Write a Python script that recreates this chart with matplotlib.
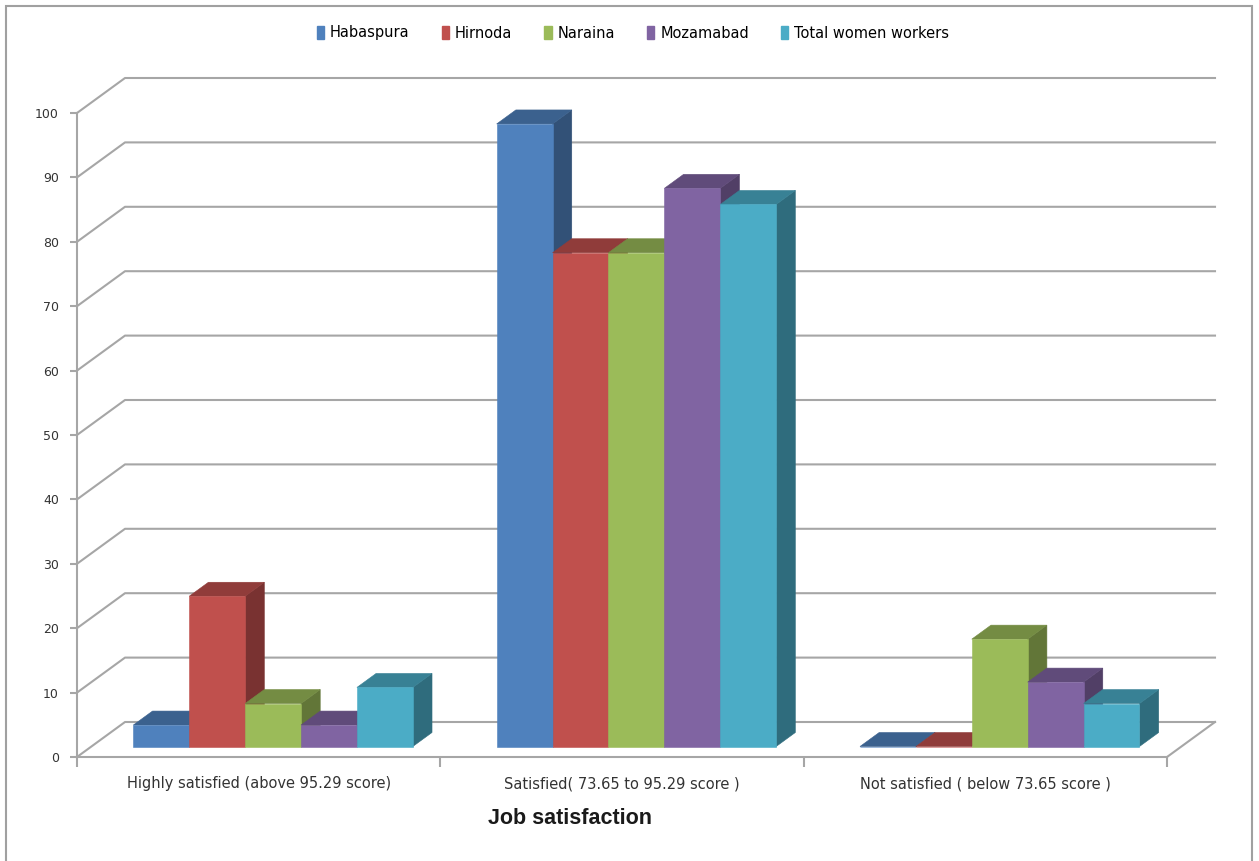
import numpy as np
import matplotlib.pyplot as plt
from matplotlib.patches import Patch, Rectangle, Polygon
from matplotlib.colors import to_rgb

# survey shares (%) per satisfaction level, 30 workers per village
categories = ["Highly satisfied (above 95.29 score)",
              "Satisfied( 73.65 to 95.29 score )",
              "Not satisfied ( below 73.65 score )"]
series = ["Habaspura", "Hirnoda", "Naraina", "Mozamabad", "Total women workers"]
habaspura = [3.33, 96.67, 0.0]
hirnoda = [23.33, 76.67, 0.0]
naraina = [6.67, 76.67, 16.67]
mozamabad = [3.33, 86.67, 10.0]
total = [9.17, 84.17, 6.67]
yticks = list(range(0, 101, 10))

colors = ["#4F81BD", "#C0504D", "#9BBB59", "#8064A2", "#4BACC6"]
grid_color = "#a6a6a6"


def shade(color, k):
    r, g, b = to_rgb(color)
    return (r * k, g * k, b * k)


def draw_box(ax, x0, y0, w, h, dx, dy, color):
    """Front, top and side faces of one 3D column in data units."""
    side = Polygon([(x0 + w, y0), (x0 + w + dx, y0 + dy),
                    (x0 + w + dx, y0 + h + dy), (x0 + w, y0 + h)],
                   closed=True, fc=shade(color, 0.63), ec=shade(color, 0.63),
                   lw=0.4, clip_on=False, zorder=3)
    top = Polygon([(x0, y0 + h), (x0 + w, y0 + h),
                   (x0 + w + dx, y0 + h + dy), (x0 + dx, y0 + h + dy)],
                  closed=True, fc=shade(color, 0.75), ec=shade(color, 0.75),
                  lw=0.4, clip_on=False, zorder=3)
    front = Rectangle((x0, y0), w, h, fc=color, ec=color, lw=0.4,
                      clip_on=False, zorder=3)
    for p in (side, top, front):
        ax.add_patch(p)


fig = plt.figure(figsize=(12.59, 8.61), dpi=100)
fig.patch.set_facecolor("white")

# chart frame
fig.patches.append(Rectangle((6 / 1259, -0.01), 1246 / 1259, 1 - 6 / 861 + 0.01,
                             transform=fig.transFigure, fill=False,
                             ec="#a0a0a0", lw=1.5))

ax = fig.add_axes([77 / 1259, 104 / 861, 1090 / 1259, 644 / 861])
ax.set_xlim(0, 3)
ax.set_ylim(0, 100)

# depth of the plot box in data units
DX = 48 / (1090 / 3)
DY = 35 / 6.44

# walls and gridlines
for v in yticks:
    ax.plot([0, DX, 3 + DX], [v, v + DY, v + DY], color=grid_color,
            lw=1.5, clip_on=False, zorder=1)
ax.plot([3, 3 + DX], [0, DY], color=grid_color, lw=1.5, clip_on=False, zorder=1)

# columns: gap width 150%, gap depth 150%
data = [habaspura, hirnoda, naraina, mozamabad, total]
n = len(series)
w = 1 / (n + 1.5)
f0, fd = 0.3, 0.4
for i in range(len(categories)):
    for j in range(n):
        x0 = i + 0.75 * w + j * w + f0 * DX
        y0 = f0 * DY
        draw_box(ax, x0, y0, w, data[j][i], fd * DX, fd * DY, colors[j])

for s in ("top", "right"):
    ax.spines[s].set_visible(False)
for s in ("left", "bottom"):
    ax.spines[s].set_color(grid_color)
    ax.spines[s].set_linewidth(1.5)
    ax.spines[s].set_zorder(2)

ax.set_yticks(yticks)
ax.tick_params(axis="y", direction="out", length=5, width=1.5,
               color=grid_color, labelsize=9, labelcolor="#333333", pad=8)
ax.set_xticks([0, 1, 2, 3])
ax.set_xticklabels([])
ax.tick_params(axis="x", which="major", direction="out", length=7,
               width=1.5, color=grid_color)
ax.set_xticks([0.5, 1.5, 2.5], minor=True)
ax.set_xticklabels(categories, minor=True, fontsize=10.5, family="DejaVu Sans",
                   color="#333333")
ax.tick_params(axis="x", which="minor", length=0, pad=14)
ax.set_facecolor("none")

fig.text(570 / 1259, 1 - 818 / 861, "Job satisfaction", ha="center",
         va="center", fontsize=15.5, fontweight="bold",
         family="Liberation Sans", color="#1a1a1a")

handles = [Patch(fc=c, ec=c) for c in colors]
fig.legend(handles, series, loc="center", ncol=n,
           bbox_to_anchor=(633 / 1259, 1 - 33 / 861), frameon=False,
           handlelength=0.5, handleheight=0.95, handletextpad=0.4,
           columnspacing=2.2, prop={"family": "DejaVu Sans", "size": 10.5})

fig.savefig("out.png", dpi=100)
